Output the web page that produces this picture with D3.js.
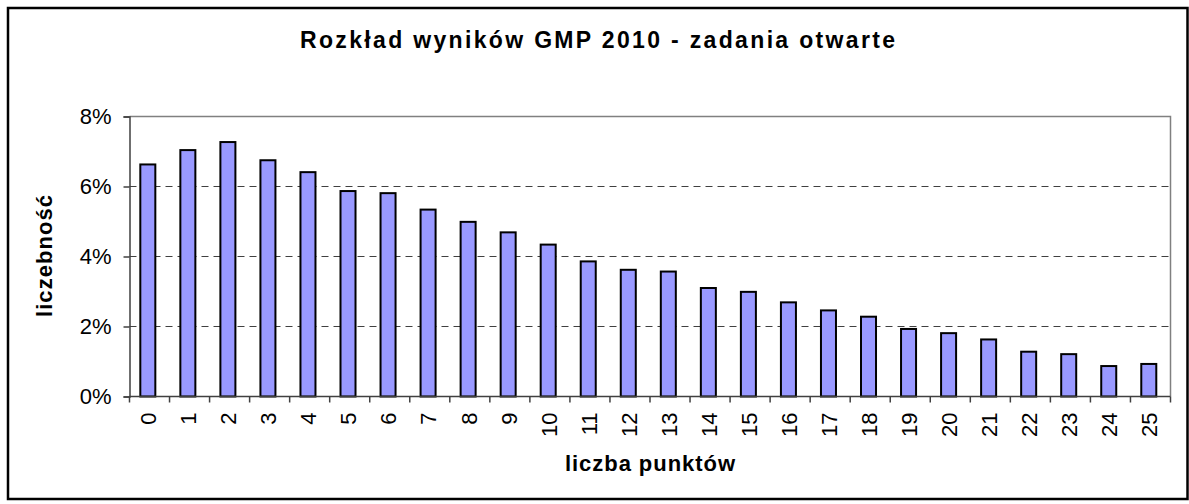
<!DOCTYPE html>
<html>
<head>
<meta charset="utf-8">
<script src="https://cdnjs.cloudflare.com/ajax/libs/d3/7.8.5/d3.min.js"></script>
<style>
	body { margin: 0; background: #fff; }
	svg { display: block; font-family: 'Liberation Sans', Arial, sans-serif; }
</style>
</head>
<body>
<div class="container"></div>
<script>
var categories = ['0', '1', '2', '3', '4', '5', '6', '7', '8', '9', '10', '11', '12',
	'13', '14', '15', '16', '17', '18', '19', '20', '21', '22', '23', '24', '25'];
var shares = [6.63, 7.04, 7.27, 6.75, 6.41, 5.87, 5.81, 5.34, 4.99, 4.69, 4.34, 3.86, 3.62,
	3.57, 3.10, 2.99, 2.69, 2.46, 2.28, 1.93, 1.81, 1.63, 1.28, 1.21, 0.87, 0.93];
var yTicks = [0, 2, 4, 6, 8];
var title = 'Rozkład wyników GMP 2010 - zadania otwarte';
var xTitle = 'liczba punktów';
var yTitle = 'liczebność';

var W = 1189, H = 504;
var plot = { left: 129.5, right: 1170.5, top: 116.5, bottom: 396.5 };

var svg = d3.select('.container')
	.append('svg')
	.attr('width', W)
	.attr('height', H);

// outer chart border
svg.append('rect')
	.attr('x', 8)
	.attr('y', 8)
	.attr('width', 1179.5)
	.attr('height', 491)
	.attr('fill', '#fff')
	.attr('stroke', '#000')
	.attr('stroke-width', 2.5);

var x = d3.scaleBand()
	.domain(categories)
	.range([plot.left, plot.right]);

var y = d3.scaleLinear()
	.domain([0, 8])
	.range([plot.bottom, plot.top]);

// dashed gridlines
svg.append('g')
	.selectAll('line')
	.data(yTicks.filter(function(t) { return t > 0 && t < 8; }))
	.enter()
	.append('line')
	.attr('x1', plot.left)
	.attr('x2', plot.right)
	.attr('y1', function(d) { return y(d); })
	.attr('y2', function(d) { return y(d); })
	.attr('stroke', '#404040')
	.attr('stroke-width', 1)
	.attr('stroke-dasharray', '7,5');

// top and right frame
svg.append('path')
	.attr('d', 'M' + plot.left + ',' + y(8) + 'H' + plot.right + 'V' + plot.bottom)
	.attr('fill', 'none')
	.attr('stroke', '#808080')
	.attr('stroke-width', 1.5);

// bars
var bw = x.bandwidth();
svg.append('g')
	.selectAll('rect')
	.data(shares)
	.enter()
	.append('rect')
	.attr('x', function(d, i) { return x(categories[i]) + bw * 0.27; })
	.attr('width', bw * 0.375)
	.attr('y', function(d) { return y(d); })
	.attr('height', function(d) { return y(0) - y(d); })
	.attr('fill', '#9999ff')
	.attr('stroke', '#000')
	.attr('stroke-width', 2);

// y axis
var yAxis = svg.append('g')
	.attr('transform', 'translate(' + plot.left + ',0)')
	.call(d3.axisLeft(y)
		.tickValues(yTicks)
		.tickSize(6)
		.tickPadding(12)
		.tickFormat(function(d) { return d + '%'; }));

yAxis.select('.domain')
	.attr('stroke', '#404040')
	.attr('stroke-width', 1.5);
yAxis.selectAll('.tick line')
	.attr('stroke', '#404040')
	.attr('stroke-width', 1.5);
yAxis.selectAll('.tick text')
	.attr('fill', '#000')
	.style('font-size', '22px')
	.style('font-family', "'Liberation Sans', Arial, sans-serif");

// x axis, ticks on category boundaries
var xAxisG = svg.append('g')
	.attr('transform', 'translate(0,' + plot.bottom + ')');

xAxisG.append('line')
	.attr('x1', plot.left)
	.attr('x2', plot.right)
	.attr('stroke', '#404040')
	.attr('stroke-width', 1.5);

xAxisG.selectAll('.bound')
	.data(categories.concat(['end']))
	.enter()
	.append('line')
	.attr('class', 'bound')
	.attr('x1', function(d, i) { return i < categories.length ? x(d) : plot.right; })
	.attr('x2', function(d, i) { return i < categories.length ? x(d) : plot.right; })
	.attr('y1', 0)
	.attr('y2', 6)
	.attr('stroke', '#404040')
	.attr('stroke-width', 1.5);

xAxisG.selectAll('.lbl')
	.data(categories)
	.enter()
	.append('text')
	.attr('class', 'lbl')
	.attr('transform', function(d) {
		return 'translate(' + (x(d) + bw / 2 - 1) + ',16) rotate(-90)';
	})
	.attr('text-anchor', 'end')
	.attr('dy', '0.35em')
	.style('font-size', '22px')
	.text(function(d) { return d; });

// titles
svg.append('text')
	.attr('x', 597.5)
	.attr('y', 48)
	.attr('text-anchor', 'middle')
	.attr('textLength', 595)
	.attr('lengthAdjust', 'spacing')
	.style('font-size', '23px')
	.style('font-weight', 'bold')
	.text(title);

svg.append('text')
	.attr('x', 650)
	.attr('y', 471)
	.attr('text-anchor', 'middle')
	.attr('textLength', 170)
	.attr('lengthAdjust', 'spacing')
	.style('font-size', '22px')
	.style('font-weight', 'bold')
	.text(xTitle);

svg.append('text')
	.attr('transform', 'translate(52,256) rotate(-90)')
	.attr('text-anchor', 'middle')
	.attr('textLength', 122)
	.attr('lengthAdjust', 'spacing')
	.style('font-size', '22px')
	.style('font-weight', 'bold')
	.text(yTitle);
</script>
</body>
</html>
